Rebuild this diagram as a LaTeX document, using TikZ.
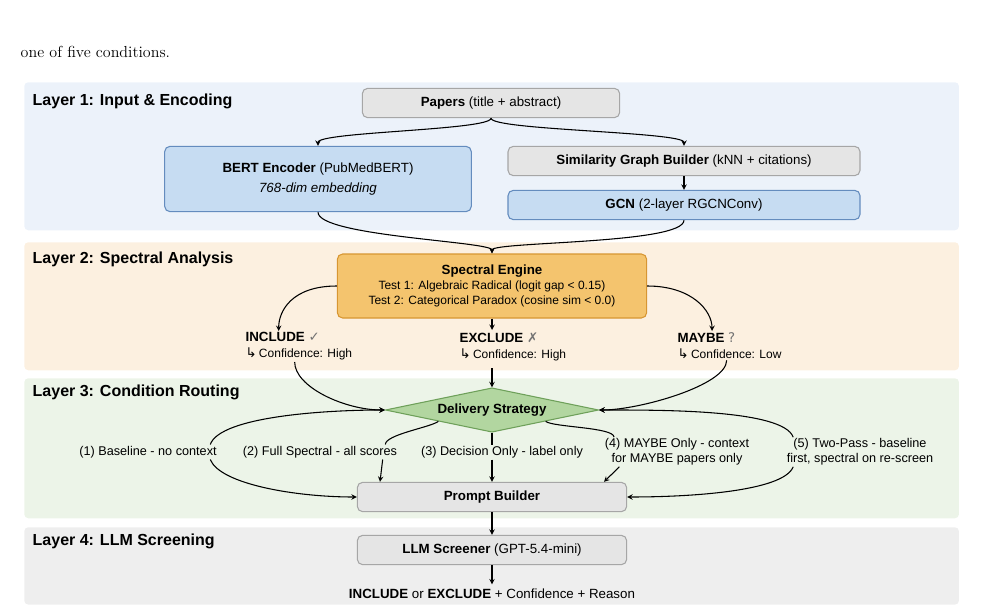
\documentclass[tikz,border=0pt]{standalone}
\usepackage{fontspec}
\setmainfont{Liberation Sans}
\newfontfamily\serif{Latin Modern Roman}
\newfontfamily\symb{DejaVu Sans}
\usetikzlibrary{positioning,shapes.geometric}
\definecolor{bandblue}{RGB}{236,242,250}
\definecolor{bandorange}{RGB}{252,240,224}
\definecolor{bandgreen}{RGB}{236,244,232}
\definecolor{bandgray}{RGB}{238,238,238}
\definecolor{boxblue}{RGB}{198,220,242}
\definecolor{lineblue}{RGB}{100,140,190}
\definecolor{boxorange}{RGB}{244,196,110}
\definecolor{lineorange}{RGB}{215,150,50}
\definecolor{boxgreen}{RGB}{178,214,160}
\definecolor{linegreen}{RGB}{110,160,90}

\begin{document}
\begin{tikzpicture}[
		x=0.75pt, y=-0.75pt,
		band/.style={rectangle, rounded corners=3pt, draw=none, minimum width=701pt, anchor=north west},
		box/.style={rectangle, rounded corners=4pt, draw=black!35, fill=black!10, thick, minimum height=22pt},
		bluebox/.style={box, draw=lineblue, fill=boxblue},
		title/.style={font=\bfseries\large, anchor=west},
		lbl/.style={font=\fontsize{9.5}{11}\selectfont, align=center, inner sep=1pt},
		verdict/.style={align=left, anchor=north west, inner sep=1pt},
		conn/.style={->, >=stealth, thick},
		auto,
		]
		\useasboundingbox (0,0) rectangle (981,614);
		\node[font=\serif\large, anchor=west] (intro) at (16,52) {one of five conditions.};

		%Layers
		\node[band, fill=bandblue, minimum height=111pt]	(layer1) at (24,82)	{};
		\node[band, fill=bandorange, minimum height=96pt]	(layer2) at (24,242)	{};
		\node[band, fill=bandgreen, minimum height=105pt]	(layer3) at (24,378)	{};
		\node[band, fill=bandgray, minimum height=58pt]		(layer4) at (24,527)	{};
		\node[title]	(t1)	at (28,101)	{Layer 1: Input \& Encoding};
		\node[title]	(t2)	at (28,259)	{Layer 2: Spectral Analysis};
		\node[title]	(t3)	at (28,392)	{Layer 3: Condition Routing};
		\node[title]	(t4)	at (28,541)	{Layer 4: LLM Screening};

		%Layer 1
		\node[box, minimum width=193pt]	(papers)	at (491,103)	{\textbf{Papers} (title + abstract)};
		\node[bluebox, minimum width=230pt, minimum height=49pt, align=center]	(bert)	at (318,179)
			{\textbf{BERT Encoder} (PubMedBERT)\\[3pt]\textit{768-dim embedding}};
		\node[box, minimum width=264pt]	(simgraph)	at (684,161)	{\textbf{Similarity Graph Builder} (kNN + citations)};
		\node[bluebox, minimum width=264pt]	(gcn)		at (684,205)	{\textbf{GCN} (2-layer RGCNConv)};
		\draw[conn] (papers.south) .. controls +(0,12) and +(0,-14) .. (bert.north);
		\draw[conn] (papers.south) .. controls +(0,12) and +(0,-14) .. (simgraph.north);
		\draw[conn] (simgraph.south) -- (gcn.north);

		%Layer 2
		\node[box, draw=lineorange, fill=boxorange, minimum width=232pt, minimum height=48pt, align=center, font=\small, inner sep=2pt]	(engine)	at (492,286)
			{{\normalsize\bfseries Spectral Engine}\\Test 1: Algebraic Radical (logit gap < 0.15)\\Test 2: Categorical Paradox (cosine sim < 0.0)};
		\draw[conn] (bert.south) .. controls +(0,24) and +(0,-12) .. (engine.north);
		\draw[conn] (gcn.south) .. controls +(0,24) and +(0,-12) .. (engine.north);
		\node[verdict]	(include)	at (244,331)	{\textbf{INCLUDE} {\symb\color{black!55}✓}\\{\symb ↳}\,{\small Confidence: High}};
		\node[verdict]	(exclude)	at (458,331)	{\textbf{EXCLUDE} {\symb\color{black!55}✗}\\{\symb ↳}\,{\small Confidence: High}};
		\node[verdict]	(maybe)		at (676,331)	{\textbf{MAYBE} {\symb\color{black!55}?}\\{\symb ↳}\,{\small Confidence: Low}};
		\coordinate (exc_top) at (492,330);
		\coordinate (exc_bot) at (492,368);
		\draw[conn] (engine.west) .. controls +(-45,0) and +(0,-20) .. ([xshift=26]include.north west);
		\draw[conn] (engine.south) -- (exc_top);
		\draw[conn] (engine.east) .. controls +(45,0) and +(0,-20) .. ([xshift=27]maybe.north west);

		%Layer 3
		\node[diamond, aspect=4.3, inner sep=2pt, minimum width=160pt, draw=linegreen, fill=boxgreen, thick, font=\bfseries]	(strategy)	at (492,410)	{Delivery Strategy};
		\draw[conn] ([xshift=38]include.south west) .. controls +(0,25) and +(-40,0) .. (strategy.west);
		\draw[conn] (exc_bot) -- (strategy.north);
		\draw[conn] ([xshift=38]maybe.south west) .. controls +(0,25) and +(40,0) .. (strategy.east);
		\node[box, minimum width=202pt]	(prompt)	at (492,497)	{\textbf{Prompt Builder}};
		\node[lbl]	(cond1)	at (148,452)	{(1) Baseline - no context};
		\node[lbl]	(cond2)	at (320,452)	{(2) Full Spectral - all scores};
		\node[lbl]	(cond3)	at (502,452)	{(3) Decision Only - label only};
		\node[lbl]	(cond4)	at (677,452)	{(4) MAYBE Only - context\\for MAYBE papers only};
		\node[lbl]	(cond5)	at (860,452)	{(5) Two-Pass - baseline\\first, spectral on re-screen};
		\draw[conn] ([xshift=-6]cond1.north east) .. controls +(10,-28) and +(-60,0) .. (strategy.west);
		\draw[conn] ([xshift=-6]cond1.south east) .. controls +(10,25) and +(-60,0) .. (prompt.west);
		\draw[thick] ([xshift=-10]cond2.north east) .. controls +(0,-10) and +(-8,6) .. (strategy.south west);
		\draw[conn] ([xshift=-12]cond2.south east) -- ([xshift=-84]prompt.north);
		\draw[thick] (strategy.south) -- (cond3.north -| strategy.south);
		\draw[conn] (cond3.south -| strategy.south) -- (prompt.north);
		\draw[thick] ([xshift=8]cond4.north west) .. controls +(0,-10) and +(8,6) .. (strategy.south east);
		\draw[conn] ([xshift=12]cond4.south west) -- ([xshift=84]prompt.north);
		\draw[conn] ([xshift=6]cond5.north west) .. controls +(-10,-28) and +(60,0) .. (strategy.east);
		\draw[conn] ([xshift=6]cond5.south west) .. controls +(-10,25) and +(60,0) .. (prompt.east);

		%Layer 4
		\node[box, minimum width=202pt]	(screener)	at (492,550)	{\textbf{LLM Screener} (GPT-5.4-mini)};
		\node	(output)	at (492,594)	{\textbf{INCLUDE} or \textbf{EXCLUDE} + Confidence + Reason};
		\draw[conn] (prompt.south) -- (screener.north);
		\draw[conn] (screener.south) -- (output.north);
	\end{tikzpicture}
\end{document}
